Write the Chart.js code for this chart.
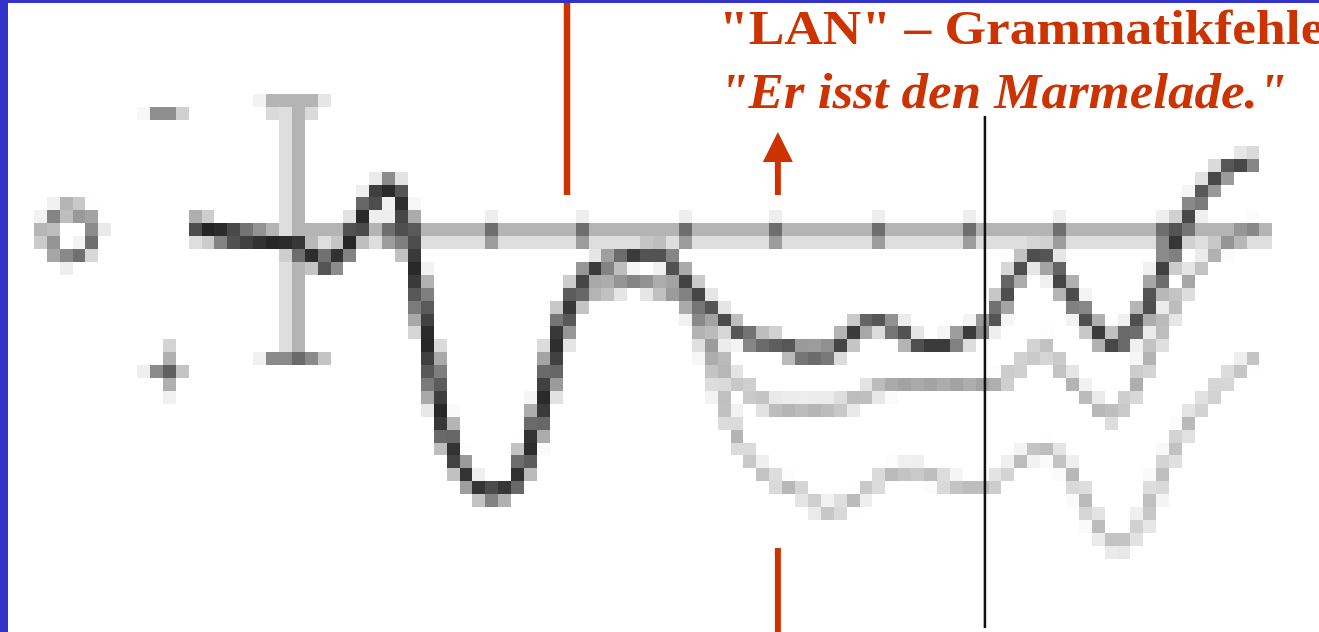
<!DOCTYPE html>
<html>
<head>
<meta charset="utf-8">
<script src="https://cdn.jsdelivr.net/npm/chart.js@4.4.1/dist/chart.umd.min.js"></script>
<style>
html,body{margin:0;padding:0;width:1319px;height:632px;overflow:hidden;background:#ffffff;}
#wrap{position:absolute;left:8.4px;top:3.6px;}
#c{image-rendering:pixelated;display:block;}
#ov{position:absolute;left:0;top:0;pointer-events:none;}
.t{position:absolute;color:#cc3300;font-family:"Liberation Serif","Times New Roman",serif;white-space:nowrap;font-weight:bold;transform-origin:0 0;}
.b{position:absolute;background:#3333cc;}
</style>
</head>
<body>
<div id="wrap"><canvas id="c" width="102" height="49"></canvas></div>
<canvas id="ov" width="1319" height="632"></canvas>
<div class="t" style="left:719px;top:4.3px;font-size:48px;line-height:48px;transform:scaleX(1.113);">"LAN" – Grammatikfehler</div>
<div class="t" style="left:719px;top:66.4px;font-size:50px;line-height:50px;font-style:italic;transform:scaleX(1.06);">"Er isst den Marmelade."</div>
<div class="b" style="left:0;top:0;width:8px;height:632px;"></div>
<div class="b" style="left:0;top:0;width:1319px;height:3px;"></div>
<script>
// ---- data (time in ms, amplitude in µV, negative plotted upward) ----
const times = [-110,-75,-50,-25,0,25,50,75,100,125,150,175,200,225,250,275,300,325,350,375,400,425,450,475,500,525,550,575,600,625,650,675,700,725,750,775,800,825,850,875,900,925,950,975,1000];
const darkSeries = [-0.3,0.1,0.3,0.4,0.5,1.2,0.7,-1.2,-1.8,2.1,7.3,9.5,10.1,9.8,7.3,3.4,1.6,1.2,0.9,0.8,1.7,2.8,3.6,4.2,4.3,4.7,4.7,4.0,3.4,3.8,4.4,4.4,3.9,3.4,1.5,0.8,2.1,3.5,4.4,3.6,1.7,-0.5,-1.8,-2.6,-2.7];
const mediumSeries = [-0.3,0.1,0.3,0.4,0.5,1.2,0.7,-1.2,-1.8,2.1,7.3,9.5,10.1,9.8,7.3,4.0,2.3,2.1,1.9,2.1,2.4,3.8,5.5,6.3,6.8,6.8,6.8,6.6,6.1,5.9,5.9,5.9,5.9,5.9,5.4,4.4,5.5,6.5,7.1,5.9,3.8,2.1,0.9,0.3,-0.2];
const lightSeries = [-0.3,0.1,0.3,0.4,0.5,1.2,0.7,-1.2,-1.8,2.1,7.3,9.5,10.1,9.8,7.3,4.0,2.3,2.1,1.9,2.1,2.4,4.4,7.3,9.0,9.7,10.1,10.8,10.5,9.8,9.3,9.3,9.7,9.9,9.8,8.9,8.4,8.9,10.8,12.1,11.7,9.5,7.6,6.3,5.5,4.8];
const tickTimes = [100,200,300,400,500,600,700,800,900];
const calibrationUV = [-5,5];
const markerRed = 280;      // ms, red vertical line
const markerArrow = 500;    // ms, arrow / critical word onset
const markerBlack = 716;    // ms, thin black line

// ---- layout constants ----
const W = 102, H = 49, BLOCK = 12.9, OFFX = 8.4, OFFY = 3.6;
const T0_PX = 22.5, PX_PER_MS = 0.0743, ZERO_PX = 17.7, PX_PER_UV = 2;
const XMIN = -T0_PX / PX_PER_MS, XMAX = (W - T0_PX) / PX_PER_MS;
const YMIN = -ZERO_PX / PX_PER_UV, YMAX = (H - ZERO_PX) / PX_PER_UV;

const deco = {
  id: 'deco',
  beforeDatasetsDraw(chart) {
    const ctx = chart.ctx, x = chart.scales.x, y = chart.scales.y;
    const px = t => Math.floor(x.getPixelForValue(t));
    const py = v => Math.floor(y.getPixelForValue(v));
    const r = (c, cx, cy, w = 1, h = 1) => { ctx.fillStyle = c; ctx.fillRect(cx, cy, w, h); };
    ctx.save();
    const y0 = py(0);
    const a = px(times[0]), b = px(times[times.length - 1] + 10);
    r('#b4b4b4', a, y0, b - a + 1, 1);
    r('#dedede', a, y0 + 1, b - a + 1, 1);
    tickTimes.forEach(t => { const c = px(t); r('#eeeeee', c, y0 - 1); r('#6e6e6e', c, y0); r('#9c9c9c', c, y0 + 1); });
    // calibration bar
    const c0 = px(0), top = py(calibrationUV[0]), bot = py(calibrationUV[1]);
    r('#dedede', c0 - 1, top + 1, 1, bot - top - 1);
    r('#b4b4b4', c0, top + 1, 1, bot - top - 1);
    r('#f2f2f2', c0 - 3, top); r('#b4b4b4', c0 - 2, top, 4, 1); r('#e6e6e6', c0 + 2, top);
    r('#dadada', c0 - 2, top + 1); r('#dadada', c0 + 1, top + 1);
    r('#f0f0f0', c0 - 3, bot); r('#8a8a8a', c0 - 2, bot, 4, 1); r('#6a6a6a', c0, bot); r('#c4c4c4', c0 + 2, bot);
    // minus sign
    const mx = px(-150), my = py(-4.6);
    r('#f8f8f8', mx - 1, my); r('#8f8f8f', mx, my, 2, 1); r('#d0d0d0', mx + 2, my);
    // plus sign
    const qx = px(-140), qy = py(5.3);
    r('#5f5f5f', qx, qy); r('#8a8a8a', qx - 1, qy); r('#eeeeee', qx - 2, qy); r('#c4c4c4', qx + 1, qy);
    r('#b0b0b0', qx, qy - 1); r('#d4d4d4', qx, qy - 2); r('#b0b0b0', qx, qy + 1); r('#f0f0f0', qx, qy + 2);
    // ring
    ctx.strokeStyle = 'rgba(60,60,60,0.75)'; ctx.lineWidth = 1;
    ctx.beginPath(); ctx.arc(x.getPixelForValue(-238), y.getPixelForValue(0) + 0.1, 1.9, 0, Math.PI * 2); ctx.stroke();
    ctx.restore();
  }
};

const mk = (vals, color, w) => ({
  data: times.map((t, i) => ({ x: t, y: vals[i] })),
  borderColor: color, borderWidth: w, pointRadius: 0, fill: false,
  cubicInterpolationMode: 'monotone', clip: false
});

const chart = new Chart(document.getElementById('c'), {
  type: 'line',
  data: { datasets: [
    mk(darkSeries, 'rgba(25,25,25,0.85)', 1.1),
    mk(mediumSeries, 'rgba(50,50,50,0.45)', 1),
    mk(lightSeries, 'rgba(70,70,70,0.4)', 1)
  ]},
  options: {
    responsive: false, animation: false, devicePixelRatio: 1, events: [],
    layout: { padding: 0 },
    plugins: { legend: { display: false }, tooltip: { enabled: false }, title: { display: false } },
    scales: {
      x: { type: 'linear', min: XMIN, max: XMAX, display: false },
      y: { type: 'linear', min: YMIN, max: YMAX, reverse: true, display: false }
    }
  },
  plugins: [deco]
});

const cv = document.getElementById('c');
cv.style.width = (W * BLOCK) + 'px';
cv.style.height = (H * BLOCK) + 'px';

// crisp annotations on the overlay, positioned through the chart's x scale
const ov = document.getElementById('ov').getContext('2d');
const X = t => OFFX + BLOCK * chart.scales.x.getPixelForValue(t);
ov.fillStyle = '#cc3300';
ov.fillRect(X(markerRed) - 3.25, 0, 6.5, 195);
const xa = X(markerArrow);
ov.fillRect(xa - 3, 162, 6, 33);
ov.beginPath(); ov.moveTo(xa - 15, 162); ov.lineTo(xa + 15, 162); ov.lineTo(xa, 132); ov.closePath(); ov.fill();
ov.fillRect(xa - 3, 548, 6, 84);
ov.fillStyle = '#111111';
ov.fillRect(X(markerBlack) - 1.25, 116, 2.5, 512);
</script>
</body>
</html>
